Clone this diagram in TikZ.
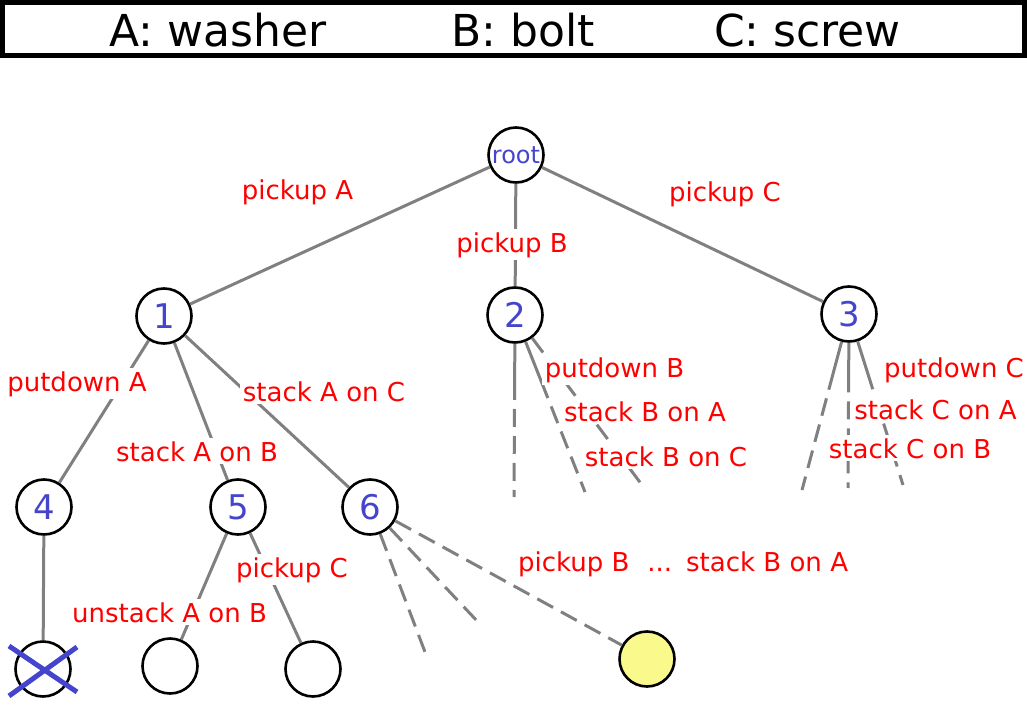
\documentclass[tikz,border=0pt]{standalone}
\usepackage{fontspec}
\setmainfont{DejaVu Sans}
\usetikzlibrary{calc}
\definecolor{nodeblue}{RGB}{68,68,204}
\definecolor{edgegray}{RGB}{128,128,128}
\definecolor{goalyellow}{RGB}{250,250,140}
\begin{document}
\begin{tikzpicture}[x=0.5pt,y=-0.5pt,
  state/.style={circle,draw=black,line width=1.3pt,fill=white,minimum size=27.5pt,inner sep=0pt,text=nodeblue,font=\fontsize{17}{20}\selectfont},
  edge/.style={draw=edgegray,line width=1.5pt},
  dashedge/.style={edge,dash pattern=on 9pt off 4.5pt},
  latedash/.style={dashedge,dash phase=9pt},
  act/.style={fill=white,text=red,inner sep=1.5pt,anchor=base,font=\fontsize{13}{15.5}\selectfont},
  titletext/.style={anchor=base,inner sep=0pt,font=\fontsize{22}{26}\selectfont}
]
\useasboundingbox (0,0) rectangle (1027,711);
% legend box
\node[draw=black,line width=2.5pt,minimum width=511pt,minimum height=26.75pt,inner sep=0pt] (legend) at (513.5,29.25) {};
\node[titletext] (ta) at (218,46.5) {A: washer};
\node[titletext] (tb) at (523,46.5) {B: bolt};
\node[titletext] (tc) at (807.5,46.5) {C: screw};
% states
\node[state,font=\fontsize{12}{14}\selectfont] (root) at (516,155) {root};
\node[state] (n1) at (164,316) {1};
\node[state] (n2) at (515,315) {2};
\node[state] (n3) at (849,314) {3};
\node[state] (n4) at (44,507) {4};
\node[state] (n5) at (238,507) {5};
\node[state] (n6) at (370,507) {6};
\node[state] (x4) at (43,669) {};
\node[state] (l5a) at (170,666) {};
\node[state] (l5b) at (313,669) {};
\node[state,fill=goalyellow] (goal) at (647,659) {};
% free ends
\coordinate (e2a) at (514,497);
\coordinate (e2b) at (585,492);
\coordinate (e2c) at (642,485);
\coordinate (e3a) at (802,490);
\coordinate (e3b) at (848,488);
\coordinate (e3c) at (903,485);
\coordinate (e6a) at (425,652);
\coordinate (e6b) at (478,622);
\coordinate (m2a) at ($(n2)!0.467!(e2a)$);
\coordinate (m2b) at ($(n2)!0.469!(e2b)$);
\coordinate (m3a) at ($(n3)!0.43!(e3a)$);
\coordinate (m3b) at ($(n3)!0.45!(e3b)$);
\coordinate (m3c) at ($(n3)!0.44!(e3c)$);
% solid edges
\draw[edge] (root) -- (n1);
\draw[edge] (root) -- (n2);
\draw[edge] (root) -- (n3);
\draw[edge] (n1) -- (n4);
\draw[edge] (n1) -- (n5);
\draw[edge] (n1) -- (n6);
\draw[edge] (n4) -- (x4);
\draw[edge] (n5) -- (l5a);
\draw[edge] (n5) -- (l5b);
% partly dashed edges
\draw[edge] (n2) -- (m2a);
\draw[latedash] (m2a) -- (e2a);
\draw[edge] (n2) -- (m2b);
\draw[latedash] (m2b) -- (e2b);
\draw[dashedge] (n2) -- (e2c);
\draw[edge] (n3) -- (m3a);
\draw[latedash] (m3a) -- (e3a);
\draw[edge] (n3) -- (m3b);
\draw[latedash] (m3b) -- (e3b);
\draw[edge] (n3) -- (m3c);
\draw[latedash] (m3c) -- (e3c);
\draw[dashedge] (n6) -- (e6a);
\draw[dashedge] (n6) -- (e6b);
\draw[dashedge] (n6) -- (goal);
% dead end cross
\draw[nodeblue,line width=2.5pt] ($(x4)+(-34,-23)$) -- ($(x4)+(34,23)$);
\draw[nodeblue,line width=2.5pt] ($(x4)+(-34,27)$) -- ($(x4)+(34,-22)$);
% action labels
\node[act] (lblA) at (297.5,200) {pickup A};
\node[act] (lblB) at (512,252) {pickup B};
\node[act] (lblC) at (725,202) {pickup C};
\node[act] (lbl14) at (77,391) {putdown A};
\node[act] (lbl15) at (197,461) {stack A on B};
\node[act] (lbl16) at (324,401) {stack A on C};
\node[act] (lbl2a) at (614.5,377) {putdown B};
\node[act] (lbl2b) at (645,421) {stack B on A};
\node[act] (lbl2c) at (666,466) {stack B on C};
\node[act] (lbl3a) at (954,377) {putdown C};
\node[act] (lbl3b) at (935.5,419) {stack C on A};
\node[act] (lbl3c) at (910,458) {stack C on B};
\node[act] (lbl5a) at (169.5,622) {unstack A on B};
\node[act] (lbl5b) at (292,577) {pickup C};
\node[act] (lbl6) at (683,571) {pickup B\hspace{9pt}...\hspace{7pt}stack B on A};
\end{tikzpicture}
\end{document}
